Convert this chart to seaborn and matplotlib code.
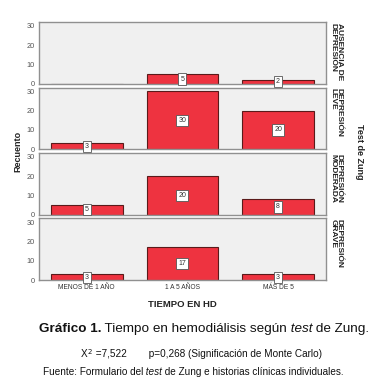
import numpy as np
import pandas as pd
import matplotlib
matplotlib.use("Agg")
import matplotlib.pyplot as plt
import seaborn as sns

tiempo = ["MENOS DE 1 AÑO", "1 A 5 AÑOS", "MÁS DE 5"]
zung = ["AUSENCIA DE\nDEPRESIÓN", "DEPRESIÓN\nLEVE", "DEPRESIÓN\nMODERADA", "DEPRESIÓN\nGRAVE"]
ausencia = [0, 5, 2]
leve = [3, 30, 20]
moderada = [5, 20, 8]
grave = [3, 17, 3]

counts = [ausencia, leve, moderada, grave]

sns.set_style("white")
plt.rcParams['font.family'] = ['Liberation Sans', 'DejaVu Sans']

fig, axes = plt.subplots(4, 1, figsize=(3.75, 3.88), dpi=100, sharex=True)
fig.subplots_adjust(left=0.104, right=0.869, top=0.943, bottom=0.278, hspace=0.06)

red = "#ee3340"
for ax, vals, lab in zip(axes, counts, zung):
    df = pd.DataFrame({"tiempo": tiempo, "n": vals})
    sns.barplot(data=df, x="tiempo", y="n", color=red, saturation=1, width=0.75,
                edgecolor="#5a1a1a", linewidth=0.8, ax=ax)
    ax.set_facecolor("#f0f0f0")
    ax.set_ylim(0, 32)
    ax.set_xlim(-0.5, 2.5)
    ax.set_yticks([0, 10, 20, 30])
    ax.tick_params(axis="y", labelsize=5.3, labelcolor="#555555", length=2, width=0.5, pad=1, color="#555555")
    ax.tick_params(axis="x", labelsize=4.8, labelcolor="#333333", length=0, pad=3)
    ax.set_xlabel("")
    ax.set_ylabel("")
    for s in ax.spines.values():
        s.set_color("#909090")
        s.set_linewidth(1.0)
    for i, v in enumerate(vals):
        if v > 0:
            ax.text(i, v / 2, str(v), ha="center", va="center", fontsize=5.0, color="#333333",
                    bbox=dict(boxstyle="square,pad=0.3", fc="white", ec="#555555", lw=0.6))
    ax.text(1.012, 0.99, lab, transform=ax.transAxes, rotation=270, ha="left", va="top",
            fontsize=6.0, fontweight="bold", color="#222222", linespacing=0.85)

axes[-1].set_xlabel("TIEMPO EN HD", fontsize=6.8, fontweight="bold", labelpad=6, color="#222222")
fig.text(0.048, 0.61, "Recuento", rotation=90, ha="center", va="center",
         fontsize=6.5, fontweight="bold", color="#222222")
fig.text(0.958, 0.61, "Test de Zung", rotation=270, ha="center", va="center",
         fontsize=6.5, fontweight="bold", color="#222222")

# caption with mixed styles
fig.canvas.draw()
renderer = fig.canvas.get_renderer()


def line(pieces, y, size, cx):
    objs = []
    for txt, kw in pieces:
        t = fig.text(0, y, txt, fontsize=size, va="center", ha="left", color="#111111", **kw)
        objs.append(t)
    widths = []
    for t, (txt, kw) in zip(objs, pieces):
        w = t.get_window_extent(renderer).width
        # trailing spaces get trimmed by the measure
        w += size * 0.28 * (len(txt) - len(txt.rstrip(" ")))
        widths.append(w)
    total = sum(widths)
    x = cx - total / 2
    for t, w in zip(objs, widths):
        t.set_x(x / fig.bbox.width)
        x += w


line([("Gráfico 1.", dict(fontweight="bold")),
      (" Tiempo en hemodiálisis según", {}),
      (" test", dict(style="italic")),
      (" de Zung.", {})], 1 - 329 / 388, 9.7, 204)
line([("X", {}), ("$^2$", {}), (" =7,522        p=0,268 (Significación de Monte Carlo)", {})],
     1 - 354 / 388, 7.2, 201)
line([("Fuente: Formulario del", {}), (" test", dict(style="italic")),
      (" de Zung e historias clínicas individuales.", {})], 1 - 372 / 388, 7.2, 193)

fig.savefig("out.png", dpi=100, facecolor="white")
